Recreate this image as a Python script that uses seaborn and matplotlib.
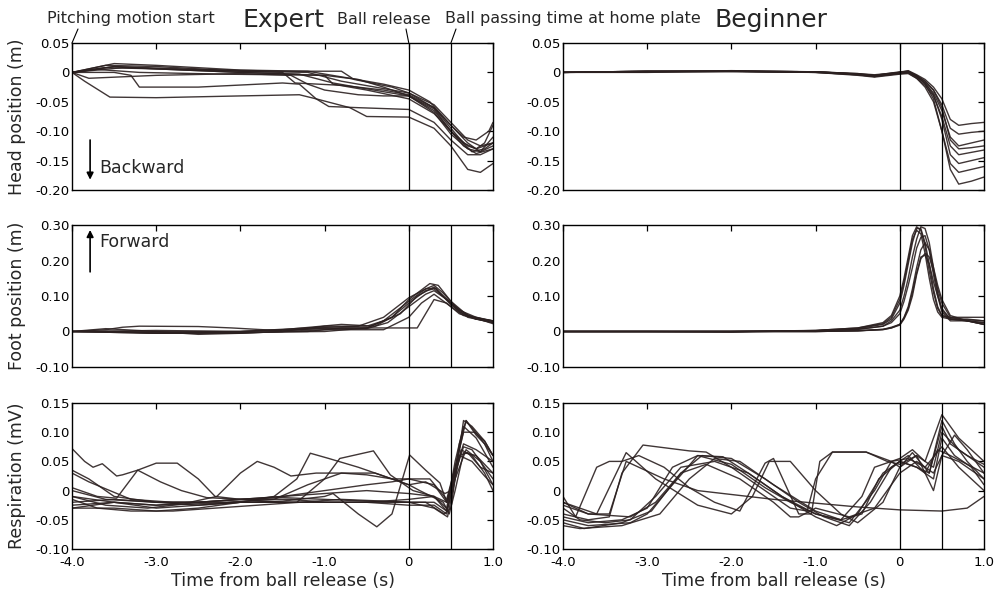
import matplotlib
matplotlib.use("Agg")
import matplotlib.pyplot as plt
import seaborn as sns

# ---------------- data ----------------
X_TICKS = [-4.0, -3.0, -2.0, -1.0, 0.0, 1.0]
X_TICK_LABELS = ["-4.0", "-3.0", "-2.0", "-1.0", "0", "1.0"]
EVENT_TIMES = [0.0, 0.5]  # ball release, ball passing home plate

HEAD_TICKS = [0.05, 0.0, -0.05, -0.10, -0.15, -0.20]
HEAD_TICK_LABELS = ["0.05", "0", "-0.05", "-0.10", "-0.15", "-0.20"]
FOOT_TICKS = [0.30, 0.20, 0.10, 0.0, -0.10]
FOOT_TICK_LABELS = ["0.30", "0.20", "0.10", "0", "-0.10"]
RESP_TICKS = [0.15, 0.10, 0.05, 0.0, -0.05, -0.10]
RESP_TICK_LABELS = ["0.15", "0.10", "0.05", "0", "-0.05", "-0.10"]

# Expert head position (m)
EXP_HEAD_T = [
    [-4, -3.6, -3.0, -2.0, -1.2, -0.8, -0.4, 0, 0.3, 0.5, 0.65, 0.8, 0.9, 1.0],
    [-4, -3.5, -3.0, -2.0, -1.0, -0.6, -0.3, 0, 0.3, 0.5, 0.7, 0.8, 1.0],
    [-4, -3.4, -2.5, -1.5, -1.35, -0.8, -0.3, 0, 0.3, 0.5, 0.7, 0.85, 1.0],
    [-4, -3.7, -3.2, -2.2, -1.0, -0.9, -0.5, 0, 0.3, 0.5, 0.75, 0.9, 1.0],
    [-4, -3.5, -2.5, -1.5, -0.8, -0.65, -0.2, 0, 0.3, 0.5, 0.7, 0.85, 1.0],
    [-4, -3.5, -3.3, -3.2, -2.5, -1.5, -1.3, -1.1, -0.7, -0.5, 0, 0.3, 0.5, 0.7, 0.85, 1.0],
    [-4, -3.85, -3.55, -3.0, -2.0, -1.3, -1.1, -0.95, -0.6, 0, 0.3, 0.5, 0.7, 0.85, 1.0],
    [-4, -3.8, -3.0, -2.0, -1.4, -1.2, -1.0, -0.6, -0.3, 0, 0.3, 0.5, 0.65, 0.8, 1.0],
    [-4, -3.5, -3.0, -2.0, -1.2, -0.7, -0.3, 0, 0.25, 0.5, 0.65, 0.8, 0.95, 1.0],
    [-4, -3.6, -3.0, -2.0, -1.3, -0.9, -0.5, 0, 0.3, 0.5, 0.7, 0.85, 1.0],
]
EXP_HEAD_V = [
    [0, 0.012, 0.01, 0.002, 0.0, -0.015, -0.025, -0.035, -0.06, -0.095, -0.12, -0.13, -0.12, -0.09],
    [0, 0.01, 0.006, 0.0, -0.005, -0.012, -0.025, -0.04, -0.065, -0.10, -0.125, -0.13, -0.12],
    [0, 0.008, 0.004, 0.0, -0.018, -0.022, -0.03, -0.038, -0.06, -0.09, -0.12, -0.135, -0.125],
    [0, 0.005, 0.0, -0.003, -0.005, -0.02, -0.03, -0.045, -0.07, -0.10, -0.135, -0.13, -0.12],
    [0, 0.01, 0.005, 0.002, 0.002, -0.012, -0.025, -0.035, -0.055, -0.085, -0.115, -0.125, -0.12],
    [0, 0.0, -0.005, -0.025, -0.025, -0.018, -0.02, -0.045, -0.06, -0.075, -0.076, -0.095, -0.125, -0.165, -0.17, -0.155],
    [0, -0.015, -0.042, -0.043, -0.04, -0.038, -0.045, -0.058, -0.06, -0.063, -0.085, -0.115, -0.14, -0.14, -0.13],
    [0, -0.01, -0.005, -0.002, -0.005, -0.02, -0.03, -0.038, -0.04, -0.04, -0.062, -0.10, -0.125, -0.138, -0.13],
    [0, 0.015, 0.012, 0.004, 0.002, -0.01, -0.02, -0.03, -0.05, -0.09, -0.11, -0.115, -0.10, -0.085],
    [0, 0.008, 0.006, 0.0, -0.003, -0.018, -0.028, -0.04, -0.068, -0.105, -0.13, -0.135, -0.11],
]

# Beginner head position (m)
BEG_HEAD_T = [-4, -3, -2, -1, -0.5, -0.3, 0, 0.1, 0.2, 0.3, 0.4, 0.5, 0.6, 0.7, 0.85, 1.0]
BEG_HEAD_V = [
    [0, 0.002, 0.002, 0.001, -0.002, -0.004, 0.0, 0.003, -0.004, -0.012, -0.025, -0.045, -0.08, -0.09, -0.087, -0.085],
    [0, 0.001, 0.003, 0.001, -0.003, -0.006, -0.002, 0.001, -0.006, -0.015, -0.03, -0.055, -0.095, -0.105, -0.102, -0.10],
    [0, 0.002, 0.002, 0.0, -0.004, -0.007, -0.001, 0.0, -0.008, -0.018, -0.035, -0.065, -0.11, -0.125, -0.12, -0.115],
    [0, 0.0, 0.002, 0.001, -0.002, -0.005, 0.001, 0.002, -0.005, -0.015, -0.03, -0.06, -0.115, -0.13, -0.128, -0.125],
    [0, 0.001, 0.001, 0.0, -0.005, -0.008, -0.003, -0.002, -0.01, -0.022, -0.04, -0.075, -0.125, -0.14, -0.136, -0.132],
    [0, 0.002, 0.002, 0.001, -0.003, -0.006, 0.0, 0.001, -0.007, -0.018, -0.038, -0.08, -0.14, -0.155, -0.15, -0.145],
    [0, 0.001, 0.002, 0.0, -0.004, -0.007, -0.002, -0.001, -0.01, -0.025, -0.05, -0.10, -0.155, -0.17, -0.165, -0.16],
    [0, 0.002, 0.002, 0.001, -0.003, -0.005, 0.0, 0.002, -0.006, -0.02, -0.045, -0.10, -0.165, -0.19, -0.185, -0.178],
]

# Expert foot position (m)
EXP_FOOT_T = [
    [-4, -3.6, -3.4, -3.2, -2.5, -2.1, -1.5, -1.0, -0.5, -0.2, 0, 0.2, 0.3, 0.45, 0.6, 0.8, 1.0],
    [-4, -3.0, -2.0, -1.2, -0.8, -0.4, 0, 0.1, 0.3, 0.45, 0.6, 0.8, 1.0],
    [-4, -3.6, -3.0, -2.5, -2.0, -1.5, -1.0, -0.5, -0.3, 0, 0.2, 0.3, 0.4, 0.6, 0.8, 1.0],
    [-4, -3.0, -2.0, -1.5, -0.8, -0.4, -0.2, 0, 0.25, 0.35, 0.5, 0.7, 1.0],
    [-4, -3.0, -2.0, -1.0, -0.5, -0.25, 0, 0.2, 0.3, 0.45, 0.6, 0.8, 1.0],
    [-4, -3.0, -2.0, -1.0, -0.5, -0.1, 0.1, 0.3, 0.5, 0.7, 1.0],
    [-4, -3.0, -2.0, -1.2, -0.6, -0.3, 0, 0.2, 0.32, 0.5, 0.7, 1.0],
    [-4, -3.5, -3.0, -2.0, -1.0, -0.3, 0, 0.15, 0.3, 0.5, 0.65, 1.0],
]
EXP_FOOT_V = [
    [0, 0.005, 0.012, 0.015, 0.014, 0.01, 0.002, 0.01, 0.01, 0.04, 0.08, 0.115, 0.12, 0.09, 0.055, 0.035, 0.03],
    [0, -0.005, -0.003, 0.0, 0.01, 0.01, 0.01, 0.01, 0.09, 0.08, 0.05, 0.035, 0.03],
    [0, 0.008, 0.0, -0.008, -0.005, 0.0, 0.015, 0.015, 0.03, 0.085, 0.12, 0.13, 0.11, 0.06, 0.035, 0.025],
    [0, 0.0, 0.0, 0.005, 0.02, 0.015, 0.04, 0.09, 0.135, 0.13, 0.085, 0.045, 0.03],
    [0, -0.003, 0.0, 0.008, 0.008, 0.025, 0.07, 0.105, 0.115, 0.09, 0.06, 0.04, 0.028],
    [0, -0.005, -0.002, 0.0, 0.01, 0.05, 0.10, 0.125, 0.08, 0.045, 0.022],
    [0, 0.003, 0.0, 0.01, 0.015, 0.04, 0.095, 0.12, 0.122, 0.075, 0.04, 0.025],
    [0, 0.0, -0.005, -0.005, 0.005, 0.005, 0.04, 0.08, 0.105, 0.07, 0.045, 0.03],
]

# Beginner foot position (m)
BEG_FOOT_T = [-4, -3, -2, -1, -0.5, -0.2, -0.1, 0, 0.05, 0.1, 0.15, 0.2, 0.25, 0.3, 0.35, 0.4, 0.45, 0.5, 0.6, 0.8, 1.0]
BEG_FOOT_V = [
    [0, 0, 0, 0.002, 0.008, 0.02, 0.035, 0.08, 0.13, 0.19, 0.25, 0.29, 0.29, 0.25, 0.19, 0.12, 0.07, 0.045, 0.035, 0.035, 0.03],
    [0, 0, -0.002, 0.003, 0.01, 0.025, 0.045, 0.10, 0.15, 0.21, 0.27, 0.295, 0.285, 0.24, 0.17, 0.11, 0.065, 0.045, 0.04, 0.04, 0.04],
    [0, 0, 0, 0.002, 0.006, 0.015, 0.03, 0.06, 0.10, 0.15, 0.21, 0.26, 0.295, 0.29, 0.25, 0.18, 0.11, 0.06, 0.035, 0.03, 0.025],
    [0, 0, 0, 0.002, 0.006, 0.015, 0.025, 0.05, 0.085, 0.13, 0.18, 0.235, 0.265, 0.27, 0.23, 0.16, 0.10, 0.055, 0.03, 0.03, 0.02],
    [0, 0, 0, 0.0, 0.002, 0.006, 0.01, 0.02, 0.04, 0.07, 0.12, 0.18, 0.23, 0.25, 0.23, 0.18, 0.13, 0.09, 0.045, 0.03, 0.02],
    [0, 0, 0, 0.0, 0.002, 0.005, 0.01, 0.018, 0.035, 0.06, 0.10, 0.16, 0.205, 0.22, 0.21, 0.17, 0.12, 0.08, 0.04, 0.03, 0.025],
    [0, 0, 0, 0.0, 0.002, 0.006, 0.012, 0.02, 0.038, 0.065, 0.11, 0.165, 0.21, 0.215, 0.19, 0.14, 0.10, 0.065, 0.035, 0.03, 0.02],
    [0, 0, 0, 0.003, 0.01, 0.022, 0.04, 0.09, 0.14, 0.20, 0.26, 0.285, 0.275, 0.22, 0.15, 0.09, 0.055, 0.04, 0.035, 0.033, 0.03],
]

# Expert respiration (mV)
EXP_RESP_T = [
    [-4, -3.85, -3.75, -3.64, -3.47, -3.4, -3.22, -2.95, -2.7, -2.4, -2.0, -1.5, -1.0, -0.5, 0, 0.3, 0.45, 0.52, 0.6, 0.68, 0.8, 0.9, 1.0],
    [-4, -3.7, -3.47, -3.22, -3.0, -2.75, -2.5, -2.3, -2.0, -1.5, -1.0, -0.5, 0, 0.3, 0.45, 0.55, 0.65, 0.75, 0.9, 1.0],
    [-4, -3.8, -3.5, -3.0, -2.5, -2.0, -1.5, -1.0, -0.5, 0, 0.3, 0.45, 0.55, 0.65, 0.8, 1.0],
    [-4, -3.5, -3.0, -2.6, -2.28, -2.0, -1.8, -1.6, -1.4, -1.1, -0.8, -0.5, -0.2, 0, 0.3, 0.45, 0.55, 0.68, 0.85, 1.0],
    [-4, -3.5, -3.0, -2.5, -2.0, -1.6, -1.33, -1.17, -0.95, -0.6, -0.34, 0, 0.13, 0.41, 0.48, 0.55, 0.65, 0.8, 1.0],
    [-4, -3.5, -3.0, -2.5, -2.0, -1.6, -1.33, -1.0, -0.82, -0.42, -0.22, 0.05, 0.3, 0.45, 0.55, 0.68, 0.85, 1.0],
    [-4, -3.5, -3.0, -2.0, -1.5, -1.0, -0.9, -0.6, -0.38, -0.2, 0.01, 0.2, 0.37, 0.45, 0.55, 0.65, 0.8, 1.0],
    [-4, -3.5, -3.0, -2.5, -2.0, -1.5, -1.0, -0.5, 0, 0.3, 0.46, 0.55, 0.62, 0.75, 0.9, 1.0],
    [-4, -3.6, -3.0, -2.5, -2.0, -1.5, -1.0, -0.5, -0.2, 0, 0.25, 0.45, 0.55, 0.65, 0.78, 0.9, 1.0],
    [-4, -3.6, -3.1, -2.5, -2.0, -1.4, -1.0, -0.5, 0, 0.3, 0.45, 0.52, 0.6, 0.7, 0.85, 1.0],
    [-4, -3.8, -3.3, -2.8, -2.2, -1.6, -1.2, -0.8, -0.4, 0, 0.2, 0.43, 0.5, 0.6, 0.75, 0.9, 1.0],
    [-4, -3.7, -3.3, -2.8, -2.3, -1.8, -1.3, -0.8, -0.3, 0, 0.2, 0.42, 0.5, 0.58, 0.65, 0.75, 0.9, 1.0],
]
EXP_RESP_V = [
    [0.072, 0.05, 0.04, 0.046, 0.025, 0.027, 0.035, 0.015, 0.0, -0.012, -0.015, -0.012, -0.015, -0.018, -0.02, -0.02, -0.035, 0.0, 0.08, 0.12, 0.095, 0.08, 0.05],
    [0.005, -0.01, -0.013, 0.035, 0.047, 0.047, 0.02, -0.01, -0.015, -0.02, -0.02, -0.02, -0.025, -0.025, -0.04, 0.03, 0.075, 0.07, 0.04, 0.02],
    [0.035, 0.02, -0.01, -0.02, -0.02, -0.015, -0.01, -0.005, 0.0, -0.005, -0.01, -0.03, 0.05, 0.11, 0.09, 0.04],
    [-0.01, -0.02, -0.025, -0.02, -0.01, 0.03, 0.05, 0.04, 0.025, 0.03, 0.03, 0.027, 0.02, 0.02, 0.01, -0.02, 0.02, 0.07, 0.05, 0.01],
    [-0.02, -0.015, -0.02, -0.025, -0.02, -0.01, 0.02, 0.064, 0.055, 0.04, 0.027, 0.01, 0.0, -0.02, -0.04, 0.0, 0.065, 0.06, 0.03],
    [-0.03, -0.02, -0.03, -0.025, -0.02, -0.02, -0.02, 0.02, 0.055, 0.068, 0.027, 0.0, -0.01, -0.035, 0.04, 0.12, 0.09, 0.06],
    [-0.025, -0.02, -0.025, -0.02, -0.018, -0.01, -0.005, -0.04, -0.062, -0.04, 0.061, 0.035, 0.013, -0.02, 0.03, 0.08, 0.07, 0.05],
    [-0.03, -0.03, -0.035, -0.03, -0.02, -0.02, -0.02, -0.02, -0.02, -0.03, -0.045, 0.02, 0.07, 0.06, 0.03, 0.0],
    [0.0, -0.015, -0.02, -0.02, -0.015, -0.01, 0.0, 0.01, 0.015, 0.02, 0.02, -0.015, 0.04, 0.10, 0.10, 0.085, 0.06],
    [-0.01, -0.025, -0.03, -0.02, -0.015, -0.015, -0.02, -0.02, -0.015, -0.01, -0.02, 0.02, 0.06, 0.065, 0.04, 0.03],
    [0.03, 0.015, -0.015, -0.02, -0.02, -0.015, 0.01, 0.03, 0.03, 0.01, 0.015, -0.005, 0.0, 0.06, 0.05, 0.025, 0.01],
    [-0.015, -0.03, -0.035, -0.035, -0.03, -0.025, -0.02, -0.015, -0.018, -0.02, -0.02, -0.04, -0.03, 0.05, 0.12, 0.11, 0.085, 0.06],
]

# Beginner respiration (mV)
BEG_RESP_T = [
    [-4, -3.85, -3.6, -3.45, -3.3, -3.25, -2.9, -2.4, -2.0, -1.75, -1.55, -1.3, -1.0, -0.7, -0.5, -0.2, 0, 0.15, 0.35, 0.5, 0.65, 0.8, 1.0],
    [-4, -3.7, -3.45, -3.3, -3.05, -2.5, -2.3, -2.0, -1.6, -1.3, -1.1, -1.0, -0.8, -0.4, -0.1, 0, 0.2, 0.4, 0.5, 0.7, 1.0],
    [-4, -3.7, -3.45, -3.25, -2.8, -2.4, -1.5, -0.5, 0, 0.5, 0.8, 1.0],
    [-4, -3.7, -3.2, -3.0, -2.7, -2.4, -2.1, -1.8, -1.4, -1.0, -0.7, -0.45, -0.3, 0, 0.15, 0.3, 0.5, 0.7, 1.0],
    [-4, -3.75, -3.3, -2.95, -2.6, -2.35, -2.0, -1.6, -1.2, -0.9, -0.6, -0.35, -0.1, 0.1, 0.3, 0.45, 0.6, 0.8, 1.0],
    [-4, -3.8, -3.3, -2.85, -2.5, -2.2, -1.9, -1.5, -1.0, -0.7, -0.45, -0.25, 0, 0.2, 0.4, 0.5, 0.65, 0.85, 1.0],
    [-4, -3.7, -3.3, -3.0, -2.7, -2.4, -2.0, -1.6, -1.3, -1.0, -0.6, -0.3, -0.1, 0.1, 0.3, 0.5, 0.7, 1.0],
    [-4, -3.7, -3.2, -2.9, -2.6, -2.3, -1.9, -1.5, -1.3, -1.2, -1.0, -0.6, -0.3, 0, 0.2, 0.4, 0.5, 0.7, 1.0],
    [-4, -3.6, -3.3, -3.1, -2.8, -2.5, -2.2, -1.9, -1.6, -1.5, -1.2, -1.05, -0.95, -0.8, -0.4, -0.15, 0, 0.2, 0.4, 0.5, 0.65, 0.8, 1.0],
    [-4, -3.8, -3.5, -3.2, -2.9, -2.6, -2.2, -1.8, -1.4, -1.0, -0.75, -0.5, -0.2, 0, 0.2, 0.35, 0.5, 0.6, 0.8, 1.0],
]
BEG_RESP_V = [
    [-0.01, -0.045, 0.04, 0.05, 0.05, 0.065, 0.02, -0.025, -0.04, -0.01, 0.05, 0.05, 0.0, -0.04, -0.055, -0.02, 0.04, 0.065, 0.03, 0.12, 0.08, 0.05, 0.02],
    [-0.04, -0.05, -0.045, 0.03, 0.078, 0.068, 0.066, 0.04, 0.0, -0.03, -0.035, 0.02, 0.066, 0.066, 0.05, 0.04, 0.06, 0.04, 0.10, 0.07, 0.04],
    [-0.025, -0.04, -0.04, 0.05, 0.02, 0.0, -0.015, -0.028, -0.033, -0.035, -0.03, -0.01],
    [-0.05, -0.06, -0.055, -0.04, 0.01, 0.06, 0.058, 0.03, -0.01, -0.04, -0.05, -0.01, 0.04, 0.055, 0.07, 0.05, 0.13, 0.09, 0.05],
    [-0.055, -0.065, -0.055, -0.035, 0.03, 0.06, 0.055, 0.02, -0.02, -0.045, -0.06, -0.02, 0.04, 0.06, 0.03, 0.07, 0.06, 0.045, 0.03],
    [-0.06, -0.065, -0.06, -0.04, 0.02, 0.055, 0.05, 0.01, -0.035, -0.05, -0.04, 0.02, 0.05, 0.04, 0.02, 0.09, 0.06, 0.04, 0.01],
    [-0.045, -0.055, -0.05, -0.03, 0.04, 0.06, 0.045, 0.005, -0.02, -0.04, -0.055, 0.0, 0.05, 0.055, 0.04, 0.075, 0.04, 0.0],
    [-0.02, -0.04, -0.045, -0.02, 0.03, 0.045, 0.02, -0.02, -0.045, -0.045, -0.03, -0.045, -0.03, 0.03, 0.05, 0.03, 0.06, 0.05, 0.02],
    [-0.02, -0.04, 0.05, 0.06, 0.04, 0.005, -0.02, -0.035, 0.047, 0.055, -0.04, -0.04, 0.05, 0.066, 0.066, 0.05, 0.045, 0.06, 0.0, 0.06, 0.095, 0.07, 0.03],
    [-0.03, -0.05, -0.055, -0.05, -0.01, 0.04, 0.05, 0.03, -0.01, -0.045, -0.06, -0.04, 0.03, 0.05, 0.04, 0.03, 0.11, 0.08, 0.06, 0.045],
]

# ---------------- styling ----------------
sns.set_theme(style="white")
plt.rcParams["font.family"] = ["DejaVu Sans"]

LINE_COLOR = "#2b2020"

W, H = 997, 599
fig = plt.figure(figsize=(W / 100, H / 100), dpi=100)


def px_rect(x0, y0, x1, y1):
    return [x0 / W, 1 - y1 / H, (x1 - x0) / W, (y1 - y0) / H]


ROWS = [(43, 190), (225, 367), (403, 549)]
COLS = [(72, 493), (563, 984)]

panels = [
    [(EXP_HEAD_T, EXP_HEAD_V), (EXP_FOOT_T, EXP_FOOT_V), (EXP_RESP_T, EXP_RESP_V)],
    [([BEG_HEAD_T] * len(BEG_HEAD_V), BEG_HEAD_V),
     ([BEG_FOOT_T] * len(BEG_FOOT_V), BEG_FOOT_V),
     (BEG_RESP_T, BEG_RESP_V)],
]
row_specs = [
    ((-0.20, 0.05), HEAD_TICKS, HEAD_TICK_LABELS, "Head position (m)"),
    ((-0.10, 0.30), FOOT_TICKS, FOOT_TICK_LABELS, "Foot position (m)"),
    ((-0.10, 0.15), RESP_TICKS, RESP_TICK_LABELS, "Respiration (mV)"),
]

axes = {}
for ci, (cx0, cx1) in enumerate(COLS):
    for ri, (ry0, ry1) in enumerate(ROWS):
        ax = fig.add_axes(px_rect(cx0, ry0, cx1, ry1))
        axes[(ri, ci)] = ax
        ts, vs = panels[ci][ri]
        for t, v in zip(ts, vs):
            sns.lineplot(x=t, y=v, ax=ax, color=LINE_COLOR, linewidth=1.0,
                         estimator=None, sort=False, legend=False, alpha=0.9)
        for et in EVENT_TIMES:
            ax.axvline(et, color="black", lw=0.9)
        ylim, yt, ytl, ylab = row_specs[ri]
        ax.set_xlim(-4, 1)
        ax.set_ylim(*ylim)
        ax.set_yticks(yt)
        ax.set_yticklabels(ytl)
        ax.set_xticks(X_TICKS)
        if ri == 2:
            ax.set_xticklabels(X_TICK_LABELS)
            ax.set_xlabel("Time from ball release (s)", fontsize=12.5)
            ax.xaxis.set_label_coords(0.5, -0.16)
        else:
            ax.set_xticklabels([])
            ax.set_xlabel("")
        if ci == 0:
            ax.set_ylabel(ylab, fontsize=12.5)
            ax.yaxis.set_label_coords(-0.11, 0.5)
        else:
            ax.set_ylabel("")
        ax.tick_params(direction="in", length=4, width=0.9, top=True, right=True,
                       labelsize=9.5, colors="black")
        ax.tick_params(axis="y", pad=2)
        ax.tick_params(axis="x", pad=5)
        for sp in ax.spines.values():
            sp.set_visible(True)
            sp.set_color("black")
            sp.set_linewidth(1.0)

# ---------------- annotations ----------------
fig.text(283 / W, 1 - 20 / H, "Expert", ha="center", va="center", fontsize=18)
fig.text(771 / W, 1 - 20 / H, "Beginner", ha="center", va="center", fontsize=18)

ax_tl = axes[(0, 0)]
labels_top = [
    ("Pitching motion start", 131, (-4.0, 0.05), 78),
    ("Ball release", 384, (EVENT_TIMES[0], 0.05), 406),
    ("Ball passing time at home plate", 573, (EVENT_TIMES[1], 0.05), 456),
]
for txt, cx, xy, lx in labels_top:
    fig.text(cx / W, 1 - 19 / H, txt, ha="center", va="center", fontsize=11.5)
    ax_tl.annotate("", xy=xy, xycoords="data", xytext=(lx, H - 29),
                   textcoords="figure pixels",
                   arrowprops=dict(arrowstyle="-", lw=0.8, color="black",
                                   shrinkA=0, shrinkB=0))

ax_tl.annotate("", xy=(0.043, 0.07), xycoords="axes fraction", xytext=(0.043, 0.34),
               arrowprops=dict(arrowstyle="-|>", lw=1.2, color="black", mutation_scale=10,
                               shrinkA=0, shrinkB=0))
ax_tl.text(0.065, 0.15, "Backward", transform=ax_tl.transAxes, fontsize=12.5,
           ha="left", va="center")

ax_ml = axes[(1, 0)]
ax_ml.annotate("", xy=(0.043, 0.965), xycoords="axes fraction", xytext=(0.043, 0.67),
               arrowprops=dict(arrowstyle="-|>", lw=1.2, color="black", mutation_scale=10,
                               shrinkA=0, shrinkB=0))
ax_ml.text(0.065, 0.88, "Forward", transform=ax_ml.transAxes, fontsize=12.5,
           ha="left", va="center")

fig.savefig("out.png", dpi=100)
